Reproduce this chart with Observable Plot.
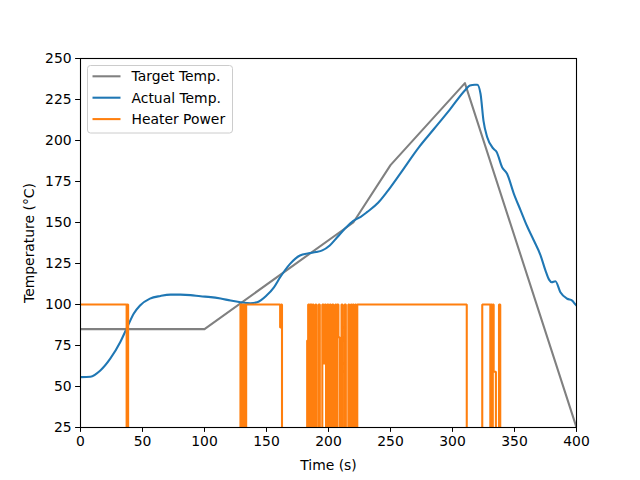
<!DOCTYPE html>
<html>
<head>
<meta charset="utf-8">
<script src="https://cdn.jsdelivr.net/npm/d3@7"></script>
<script src="https://cdn.jsdelivr.net/npm/@observablehq/plot@0.6"></script>
<style>
  html, body { margin: 0; padding: 0; background: #fff; }
  #chart { width: 640px; height: 480px; }
</style>
</head>
<body>
<div id="chart"></div>
<script>
// ---- data ----
const targetTime = [0, 100, 220, 250, 310, 400];
const targetTemp = [85, 85, 150, 185, 235, 25];

const actualTime = [0, 8, 16, 24, 32, 37.6, 43, 48, 56, 64.5, 72.6, 80.6, 88.7, 96.8, 105, 113, 121, 129, 137, 142.5,
  150, 156, 161, 169, 177, 184, 190, 195, 201, 207, 213, 220, 226, 231, 240, 247, 258, 273, 285, 298, 310.5,
  314, 318, 320, 322.6, 325, 328, 333, 335.6, 340, 344, 349.5, 355, 360, 365.6, 371, 375, 378, 380, 383, 387,
  392.5, 396.5, 398, 400];
const actualTemp = [55.7, 56, 59.8, 67, 77, 86, 94.5, 99.4, 103.6, 105.2, 106, 106, 105.7, 105, 104.5, 103.6, 102.4, 101.4, 100.8, 101.4,
  105.5, 110.5, 116.6, 124.8, 129.9, 131.2, 132, 133, 136, 141, 146, 151, 153.5, 156.3, 162, 168.5, 180, 196, 207, 219, 231,
  233.5, 234, 234, 228.5, 212, 202, 195, 193, 183.7, 179.7, 167.5, 157.3, 148, 139, 130, 120.7, 115, 113.6, 114.2, 107.5,
  103.5, 102.4, 101, 99.4];

const heaterTime = [0, 37.2, 37.8, 38.4, 129, 129.8, 130.5, 131.3, 132, 132.8, 133.6, 161, 161.8, 162.5,
  182.8, 183.6, 184.4, 185, 186.5, 187.2, 188, 189.5, 190.2, 192, 193, 195, 196, 197, 198, 199, 200, 201, 202,
  203, 204, 205.5, 206.2, 207, 208, 209, 210.5, 211.3, 213, 214, 216, 216.8, 218, 218.7, 219.5, 220.5, 221.5, 222.3, 223.2,
  311.5, 324, 330.5, 331, 331.8, 332.5, 333.2, 335, 337.5, 338.5, 400];
const heaterPower = [100, 0, 100, 0, 100, 0, 100, 0, 100, 0, 100, 86, 100, 0,
  78, 100, 0, 100, 0, 100, 0, 100, 0, 100, 0, 100, 64, 100, 0, 100, 0, 100, 0,
  100, 0, 100, 0, 100, 80, 0, 100, 0, 100, 0, 100, 0, 100, 0, 100, 0, 100, 0, 100,
  0, 100, 0, 100, 0, 100, 59, 0, 100, 0, 0];

const xTicks = [0, 50, 100, 150, 200, 250, 300, 350, 400];
const yTicks = [25, 50, 75, 100, 125, 150, 175, 200, 225, 250];

const seriesNames = ["Target Temp.", "Actual Temp.", "Heater Power"];
const seriesColors = ["#808080", "#1f77b4", "#ff7f0e"];

// ---- build tables ----
const target = targetTime.map((t, i) => ({t, v: targetTemp[i]}));
const actual = actualTime.map((t, i) => ({t, v: actualTemp[i]}));
const heater = heaterTime.map((t, i) => ({t, v: heaterPower[i]}));

const lw = 2.08;
const plot = Plot.plot({
  width: 640,
  height: 480,
  marginLeft: 80,
  marginRight: 64,
  marginTop: 58,
  marginBottom: 53,
  style: {fontFamily: "DejaVu Sans", fontSize: "13.9px", color: "black", background: "white"},
  x: {domain: [0, 400]},
  y: {domain: [25, 250]},
  marks: [
    Plot.line(target, {x: "t", y: "v", stroke: seriesColors[0], strokeWidth: lw, clip: true}),
    Plot.line(actual, {x: "t", y: "v", stroke: seriesColors[1], strokeWidth: lw, curve: "monotone-x", clip: true}),
    Plot.line(heater, {x: "t", y: "v", stroke: seriesColors[2], strokeWidth: lw, curve: "step-after", clip: true, strokeLinejoin: "miter"}),
    Plot.axisX({ticks: xTicks, tickSize: 4.9, tickPadding: 4, label: "Time (s)", labelAnchor: "center", labelArrow: "none", labelOffset: 42, fontSize: 13.9}),
    Plot.axisY({ticks: yTicks, tickSize: 4.9, tickPadding: 4, label: "Temperature (°C)", labelAnchor: "center", labelArrow: "none", labelOffset: 56, fontSize: 13.9}),
    Plot.frame({stroke: "black", strokeWidth: 1.1})
  ]
});
document.getElementById("chart").appendChild(plot);

// ---- legend (matplotlib-style, upper left) ----
const svg = d3.select(plot);
const lg = svg.append("g").attr("font-family", "DejaVu Sans").attr("font-size", "13.9px").attr("text-anchor", "start");
lg.append("rect").attr("x", 87.5).attr("y", 65.5).attr("width", 145).attr("height", 67.5)
  .attr("rx", 3).attr("fill", "white").attr("fill-opacity", 0.8).attr("stroke", "#cccccc").attr("stroke-width", 1);
seriesNames.forEach((name, i) => {
  const y = 76.3 + i * 21.4;
  lg.append("line").attr("x1", 92.5).attr("x2", 120.5).attr("y1", y).attr("y2", y)
    .attr("stroke", seriesColors[i]).attr("stroke-width", lw);
  lg.append("text").attr("x", 131.5).attr("y", y).attr("dy", "0.35em").attr("text-anchor", "start")
    .attr("fill", "black").text(name);
});
</script>
</body>
</html>
